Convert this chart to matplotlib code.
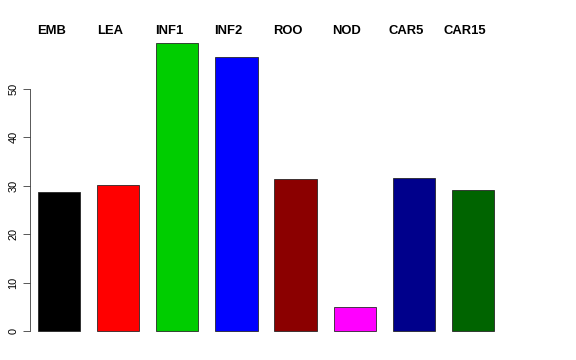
import numpy as np
import matplotlib
matplotlib.use("Agg")
import matplotlib.pyplot as plt
from matplotlib.transforms import offset_copy, blended_transform_factory

plt.rcParams['font.family'] = ['Liberation Sans', 'DejaVu Sans']

# bar labels, heights and fills
groups = ['EMB', 'LEA', 'INF1', 'INF2', 'ROO', 'NOD', 'CAR5', 'CAR15']
values = [28.7, 30.1, 59.5, 56.6, 31.4, 5.0, 31.6, 29.1]
colors = ['#000000', '#FF0000', '#00CD00', '#0000FF',
          '#8B0000', '#FF00FF', '#00008B', '#006400']
yticks = [0, 10, 20, 30, 40, 50]

fig = plt.figure(figsize=(8, 5), dpi=72)
ax = fig.add_axes([0.0343, 0.0486, 0.855, 0.864])

# R barplot layout: width 1, space 0.4
x = 0.4 + np.arange(len(values)) * 1.4 + 0.5
ax.bar(x, values, width=1.0, color=colors, edgecolor='#222222', linewidth=0.8)

ax.set_xlim(-0.032, 11.632)
ax.set_ylim(-2.38, 61.88)

for s in ['top', 'right', 'bottom']:
    ax.spines[s].set_visible(False)
ax.spines['left'].set_bounds(0, 50)
ax.spines['left'].set_position(('data', 0.2))
ax.spines['left'].set_color('#333333')
ax.set_xticks([])
ax.set_yticks(yticks)
ax.tick_params(axis='y', length=7, width=0.8, color='#333333', labelsize=11, pad=4)
for lab in ax.get_yticklabels():
    lab.set_rotation(90)
    lab.set_va('center')

# group names along the top, slightly left of each bar
trans = offset_copy(blended_transform_factory(ax.transData, fig.transFigure),
                    fig=fig, x=-8, y=0, units='dots')
for xi, g in zip(x, groups):
    ax.text(xi, 0.915, g, transform=trans, fontsize=13, fontweight='bold',
            ha='center', va='center')

fig.savefig('out.png', dpi=72)
